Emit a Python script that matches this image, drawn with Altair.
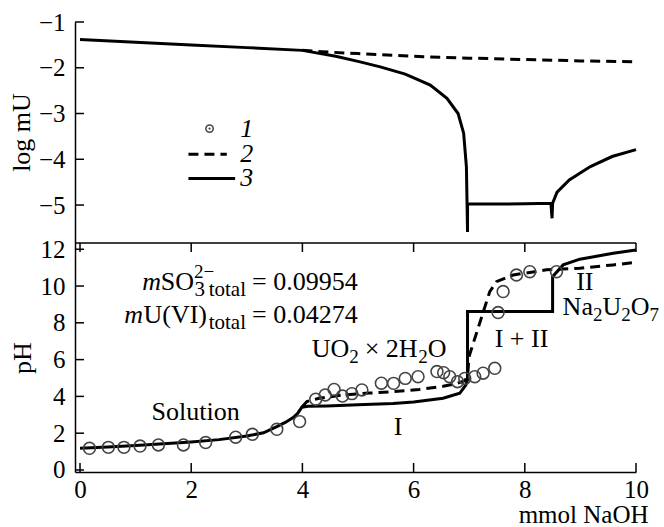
import altair as alt
import pandas as pd

SERIF = "Liberation Serif"

# ---------------- data ----------------
# upper panel: log mU
top_solid_x = [0.0, 1.0, 2.0, 3.0, 4.0, 4.6, 5.0, 5.4, 5.85, 6.3, 6.6, 6.8, 6.9, 6.95,
               6.97, 6.97, 7.5, 8.0, 8.47, 8.49, 8.5, 8.58, 8.8, 9.18, 9.57, 10.0]
top_solid_y = [-1.38, -1.44, -1.50, -1.56, -1.62, -1.75, -1.86, -1.98, -2.14, -2.38, -2.67, -3.00, -3.43, -4.17,
               -5.59, -4.98, -4.98, -4.97, -4.96, -5.29, -4.96, -4.72, -4.45, -4.16, -3.94, -3.79]
top_dash_x = [4.0, 4.35, 5.0, 6.18, 7.0, 8.0, 9.0, 10.0]
top_dash_y = [-1.62, -1.65, -1.69, -1.76, -1.79, -1.82, -1.85, -1.87]

# lower panel: pH
bot_solid_x = [0.0, 0.5, 1.0, 1.5, 2.0, 2.5, 3.0, 3.3, 3.54, 3.7, 3.84, 3.92, 3.99, 4.1, 4.44,
               5.0, 5.63, 6.0, 6.53, 6.83, 6.94, 6.97, 6.97, 8.5, 8.5, 8.69, 8.99, 9.59, 10.0]
bot_solid_y = [1.18, 1.25, 1.33, 1.42, 1.52, 1.65, 1.85, 2.02, 2.36, 2.6, 2.86, 3.1, 3.41, 3.46, 3.48,
               3.54, 3.62, 3.7, 3.9, 4.17, 4.62, 4.9, 8.61, 8.61, 10.51, 11.15, 11.46, 11.78, 11.96]
bot_dash_x = [3.99, 4.08, 4.3, 4.74, 5.2, 5.63, 6.1, 6.53, 6.75, 6.92, 6.97, 7.0, 7.37, 7.49,
              7.79, 8.39, 8.99, 9.59, 10.0]
bot_dash_y = [3.41, 3.72, 3.9, 4.08, 4.18, 4.26, 4.38, 4.55, 4.68, 4.85, 5.1, 6.2, 9.7, 10.24,
              10.6, 10.88, 10.97, 11.15, 11.29]

exp_x = [0.17, 0.51, 0.79, 1.08, 1.41, 1.86, 2.26, 2.80, 3.10, 3.54, 3.95, 4.24, 4.41, 4.57,
         4.72, 4.89, 5.07, 5.42, 5.64, 5.85, 6.08, 6.42, 6.54, 6.65, 6.79, 6.92, 7.10, 7.25,
         7.46, 7.52, 7.61, 7.85, 8.09, 8.57]
exp_ph = [1.18, 1.23, 1.23, 1.30, 1.36, 1.36, 1.49, 1.78, 1.94, 2.21, 2.63, 3.85, 4.08, 4.38,
          4.02, 4.15, 4.35, 4.72, 4.71, 4.98, 5.07, 5.35, 5.29, 5.07, 4.80, 4.98, 5.07, 5.26,
          5.53, 8.56, 9.70, 10.60, 10.78, 10.78]

x_ticks = [0, 2, 4, 6, 8, 10]
top_y_ticks = [-1, -2, -3, -4, -5]
bot_y_ticks = [0, 2, 4, 6, 8, 10, 12]

# legend (upper panel)
legend_labels = ["1", "2", "3"]
legend_label_x = 2.88
legend_label_y = [-3.33, -3.89, -4.42]
legend_marker = (2.33, -3.33)
legend_dash = ([1.95, 2.64], -3.89)
legend_solid = ([1.95, 2.79], -4.42)

# lower panel labels
simple_labels = ["Solution", "I", "I + II", "II"]
simple_x = [2.08, 5.72, 7.94, 9.08]
simple_y = [2.72, 1.90, 6.69, 9.79]

eq_anchor_x = 3.094
eq1_y = 9.79
eq2_y = 7.99
uo2_anchor = (4.167, 6.12)
na_anchor = (8.68, 8.43)

# ---------------- layout ----------------
W, H = 561, 450          # whole plot area (both panels)
HT_PX, HB_PX = 221, 229  # upper / lower panel heights
XD = [-0.09, 10.0]
B_MIN, B_MAX = -0.11, 12.34   # lower panel pH range
T_MIN, T_MAX = -5.83, -1.0    # upper panel log mU range
K = (HT_PX / (T_MAX - T_MIN)) / (HB_PX / (B_MAX - B_MIN))
U_MAX = B_MAX + (T_MAX - T_MIN) * K
U_EXPR = f"{B_MAX} + (datum.y - ({T_MIN})) * {K}"

xs = alt.Scale(domain=XD, nice=False, zero=False)
ys = alt.Scale(domain=[B_MIN, U_MAX + 1e-4], nice=False, zero=False)

y_axis_values = bot_y_ticks + [B_MAX + (v - T_MIN) * K for v in top_y_ticks]
label_expr = (f"datum.value > {B_MAX} ? format((datum.value - {B_MAX}) / {K} + ({T_MIN}), '.0f')"
              f" : format(datum.value, '.0f')")

Y_AXIS = alt.Axis(
    orient="left", values=y_axis_values, labelExpr=label_expr, ticks=False, grid=False,
    domainColor="black", domainWidth=1.5,
    labelFont=SERIF, labelFontSize=25, labelColor="black", labelPadding=10,
    labelFlush=False, labelOverlap=False,
    title="pH", titleFont=SERIF, titleFontSize=26, titleFontWeight="normal", titleColor="black",
    titleX=-53, titleY=HT_PX + HB_PX / 2, titleAngle=270, titleAlign="center", titleBaseline="middle",
)
X_AXIS = alt.Axis(
    orient="bottom", values=x_ticks, format="d", ticks=False, grid=False,
    domainColor="black", domainWidth=1.5,
    labelFont=SERIF, labelFontSize=25, labelColor="black", labelPadding=5,
    labelFlush=False, labelOverlap=False,
    title="mmol NaOH", titleFont=SERIF, titleFontSize=25, titleFontWeight="normal", titleColor="black",
    titleX=573, titleY=50, titleAlign="right", titleBaseline="alphabetic", titleAngle=0,
)
XE = lambda f="x:Q": alt.X(f, scale=xs, axis=X_AXIS)
YE = lambda f="y:Q": alt.Y(f, scale=ys, axis=Y_AXIS)


def enc(ch, top):
    if top:
        ch = ch.transform_calculate(u=U_EXPR)
        return ch.encode(x=XE(), y=YE("u:Q"))
    return ch.encode(x=XE(), y=YE())


def line_layer(xv, yv, top, dash=None, width=3):
    df = pd.DataFrame({"x": xv, "y": yv, "i": list(range(len(xv)))})
    kw = dict(color="black", strokeWidth=width)
    if dash:
        kw["strokeDash"] = dash
    return enc(alt.Chart(df).mark_line(**kw), top).encode(order="i:Q")


def text_piece(text, x, y, top, align="left", dx=0, dy=0, size=26, italic=False, baseline="alphabetic"):
    df = pd.DataFrame({"x": [x], "y": [y], "t": [text]})
    kw = dict(font=SERIF, fontSize=size, align=align, baseline=baseline, dx=dx, dy=dy, color="black")
    if italic:
        kw["fontStyle"] = "italic"
    return enc(alt.Chart(df).mark_text(**kw), top).encode(text="t:N")


layers = []

# main curves
layers.append(line_layer(bot_solid_x, bot_solid_y, False))
layers.append(line_layer(bot_dash_x, bot_dash_y, False, dash=[10, 6]))
layers.append(line_layer(top_dash_x, top_dash_y, True, dash=[10, 6]))
layers.append(line_layer(top_solid_x, top_solid_y, True))

# experimental points
layers.append(enc(alt.Chart(pd.DataFrame({"x": exp_x, "y": exp_ph})).mark_point(
    shape="circle", filled=False, size=140, color="#444", strokeWidth=1.6, opacity=1), False))

# inward ticks and the panel separator
tick_kw = dict(color="black", strokeWidth=1.5)
layers.append(alt.Chart(pd.DataFrame({"x": x_ticks})).mark_rule(**tick_kw).encode(
    x=XE(), y=alt.value(H), y2=alt.value(H - 9)))
layers.append(alt.Chart(pd.DataFrame({"x": x_ticks})).mark_rule(**tick_kw).encode(
    x=XE(), y=alt.value(HT_PX), y2=alt.value(HT_PX + 9)))
layers.append(alt.Chart(pd.DataFrame({"y": bot_y_ticks})).mark_rule(**tick_kw).encode(
    y=YE(), x=alt.value(0), x2=alt.value(9)))
layers.append(alt.Chart(pd.DataFrame({"y": top_y_ticks})).transform_calculate(u=U_EXPR).mark_rule(**tick_kw).encode(
    y=YE("u:Q"), x=alt.value(0), x2=alt.value(9)))
layers.append(alt.Chart(pd.DataFrame({"y": [B_MAX]})).mark_rule(**tick_kw).encode(
    y=YE(), x=alt.value(0), x2=alt.value(W)))

# title of the upper panel's axis
layers.append(alt.Chart(pd.DataFrame({"t": ["log mU"]})).mark_text(
    font=SERIF, fontSize=26, angle=270, align="center", baseline="middle", color="black"
).encode(x=alt.value(-53), y=alt.value(HT_PX / 2), text="t:N"))

# legend of the upper panel
mk = pd.DataFrame({"x": [legend_marker[0]], "y": [legend_marker[1]]})
layers.append(enc(alt.Chart(mk).mark_point(shape="circle", filled=False, size=55, color="#444",
                                           strokeWidth=1.5, opacity=1), True))
layers.append(enc(alt.Chart(mk).mark_point(shape="circle", filled=True, size=5, color="#444", opacity=1), True))
layers.append(line_layer(legend_dash[0], [legend_dash[1]] * 2, True, dash=[10, 6]))
layers.append(line_layer(legend_solid[0], [legend_solid[1]] * 2, True))
for lab, ly in zip(legend_labels, legend_label_y):
    layers.append(text_piece(lab, legend_label_x, ly, True, italic=True, baseline="middle"))

# lower panel labels
for lab, lx, ly in zip(simple_labels, simple_x, simple_y):
    layers.append(text_piece(lab, lx, ly, False, align="center"))

# mSO3(2-)total = 0.09954
layers += [
    text_piece("= 0.09954", eq_anchor_x, eq1_y, False),
    text_piece("total", eq_anchor_x, eq1_y, False, align="right", dx=-6, dy=6, size=21),
    text_piece("3", eq_anchor_x, eq1_y, False, align="right", dx=-47, dy=6, size=21),
    text_piece("2\u2212", eq_anchor_x, eq1_y, False, dx=-58, dy=-12, size=19),
    text_piece("SO", eq_anchor_x, eq1_y, False, align="right", dx=-58),
    text_piece("m", eq_anchor_x, eq1_y, False, align="right", dx=-91, italic=True),
]
# mU(VI)total = 0.04274
layers += [
    text_piece("= 0.04274", eq_anchor_x, eq2_y, False),
    text_piece("total", eq_anchor_x, eq2_y, False, align="right", dx=-6, dy=6, size=21),
    text_piece("U(VI)", eq_anchor_x, eq2_y, False, align="right", dx=-45),
    text_piece("m", eq_anchor_x, eq2_y, False, align="right", dx=-109, italic=True),
]
# UO2 x 2H2O
ux, uy = uo2_anchor
layers += [
    text_piece("UO", ux, uy, False),
    text_piece("2", ux, uy, False, dx=37.5, dy=6, size=19),
    text_piece("\u00d7 2H", ux, uy, False, dx=53),
    text_piece("2", ux, uy, False, dx=106.5, dy=6, size=19),
    text_piece("O", ux, uy, False, dx=116),
]
# Na2U2O7
nx, ny = na_anchor
layers += [
    text_piece("Na", nx, ny, False),
    text_piece("2", nx, ny, False, dx=30.3, dy=6, size=19),
    text_piece("U", nx, ny, False, dx=39.8),
    text_piece("2", nx, ny, False, dx=58.6, dy=6, size=19),
    text_piece("O", nx, ny, False, dx=68.1),
    text_piece("7", nx, ny, False, dx=86.9, dy=6, size=19),
]

chart = alt.layer(*layers).properties(
    width=W, height=H,
    autosize=alt.AutoSizeParams(type="none"),
    padding={"left": 75, "top": 22, "right": 28, "bottom": 55},
).configure_view(stroke=None)

chart.save("out.html", embed_options={"renderer": "svg", "actions": False})
